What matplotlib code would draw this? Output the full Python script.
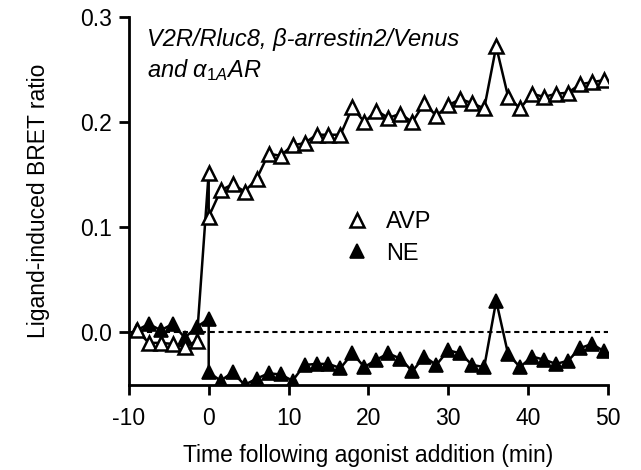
import matplotlib
matplotlib.use("Agg")
import matplotlib.pyplot as plt
from matplotlib.lines import Line2D

plt.rcParams['font.family'] = ['Liberation Sans', 'DejaVu Sans']
plt.rcParams['mathtext.fontset'] = 'custom'
plt.rcParams['mathtext.rm'] = 'Liberation Sans'
plt.rcParams['mathtext.it'] = 'Liberation Sans:italic'
plt.rcParams['axes.unicode_minus'] = False

# time points (min)
t_pre = [-9, -7.5, -6, -4.5, -3, -1.5]
t_post = [1.5, 3, 4.5, 6, 7.5, 9, 10.5, 12, 13.5, 15, 16.5, 18, 19.5, 21, 22.5,
          24, 25.5, 27, 28.5, 30, 31.5, 33, 34.5, 36, 37.5, 39, 40.5, 42, 43.5,
          45, 46.5, 48, 49.5]

# AVP (open triangles)
avp_pre = [0.002, -0.010, -0.010, -0.011, -0.014, -0.008]
avp_zero = [0.152, 0.110]
avp_post = [0.135, 0.141, 0.134, 0.146, 0.170, 0.168, 0.178, 0.180, 0.188, 0.188,
            0.188, 0.214, 0.200, 0.211, 0.204, 0.208, 0.200, 0.218, 0.206, 0.216,
            0.222, 0.218, 0.213, 0.272, 0.224, 0.213, 0.227, 0.224, 0.227, 0.228,
            0.236, 0.238, 0.240]

# NE (filled triangles)
ne_pre = [0.002, 0.008, 0.002, 0.008, -0.005, 0.005]
ne_zero = [0.013, -0.038]
ne_post = [-0.046, -0.038, -0.050, -0.044, -0.039, -0.040, -0.046, -0.031, -0.030, -0.030,
           -0.034, -0.020, -0.033, -0.026, -0.020, -0.025, -0.037, -0.023, -0.031, -0.017,
           -0.020, -0.031, -0.033, 0.030, -0.021, -0.033, -0.023, -0.026, -0.030, -0.027,
           -0.015, -0.011, -0.018]

t_all = t_pre + [0, 0] + t_post
avp = avp_pre + avp_zero + avp_post
ne = ne_pre + ne_zero + ne_post

fig = plt.figure(figsize=(6.41, 4.70), dpi=100)
ax = fig.add_axes([0.201, 0.181, 0.7475, 0.7828])

ax.axhline(0, color='black', lw=1.5, ls=(0, (2.5, 1.8)), zorder=1)
ax.plot(t_all, ne, color='black', lw=1.8, marker='^', ms=10, mfc='black',
        mec='black', mew=1.2, zorder=3)
ax.plot(t_all, avp, color='black', lw=1.8, marker='^', ms=10.5, mfc='white',
        mec='black', mew=1.8, zorder=4)

ax.set_xlim(-10, 50)
ax.set_ylim(-0.05, 0.3)
ax.set_xticks([-10, 0, 10, 20, 30, 40, 50])
ax.set_yticks([0.0, 0.1, 0.2, 0.3])
ax.set_yticklabels(['0.0', '0.1', '0.2', '0.3'])
ax.spines['top'].set_visible(False)
ax.spines['right'].set_visible(False)
ax.spines['left'].set_linewidth(2)
ax.spines['bottom'].set_linewidth(2)
ax.tick_params(direction='out', length=7, width=2, labelsize=16.5)
ax.tick_params(axis='x', pad=9)
ax.tick_params(axis='y', pad=5)

ax.set_xlabel('Time following agonist addition (min)', fontsize=16.5, labelpad=10)
ax.set_ylabel('Ligand-induced BRET ratio', fontsize=16.5, labelpad=22)

ax.text(0.038, 0.94, 'V2R/Rluc8, β-arrestin2/Venus', transform=ax.transAxes,
        fontsize=17, style='italic', va='center', ha='left')
ax.text(0.038, 0.855, r'and α$_{\mathit{1A}}$AR', transform=ax.transAxes,
        fontsize=17, style='italic', va='center', ha='left')

handles = [Line2D([], [], ls='none', marker='^', ms=10.5, mfc='white', mec='black', mew=1.8),
           Line2D([], [], ls='none', marker='^', ms=10, mfc='black', mec='black', mew=1.2)]
ax.legend(handles, ['AVP', 'NE'], loc='upper left', bbox_to_anchor=(0.408, 0.53),
          frameon=False, fontsize=17, handlelength=1.0, handletextpad=0.7,
          labelspacing=0.4)

fig.savefig('out.png', dpi=100)
